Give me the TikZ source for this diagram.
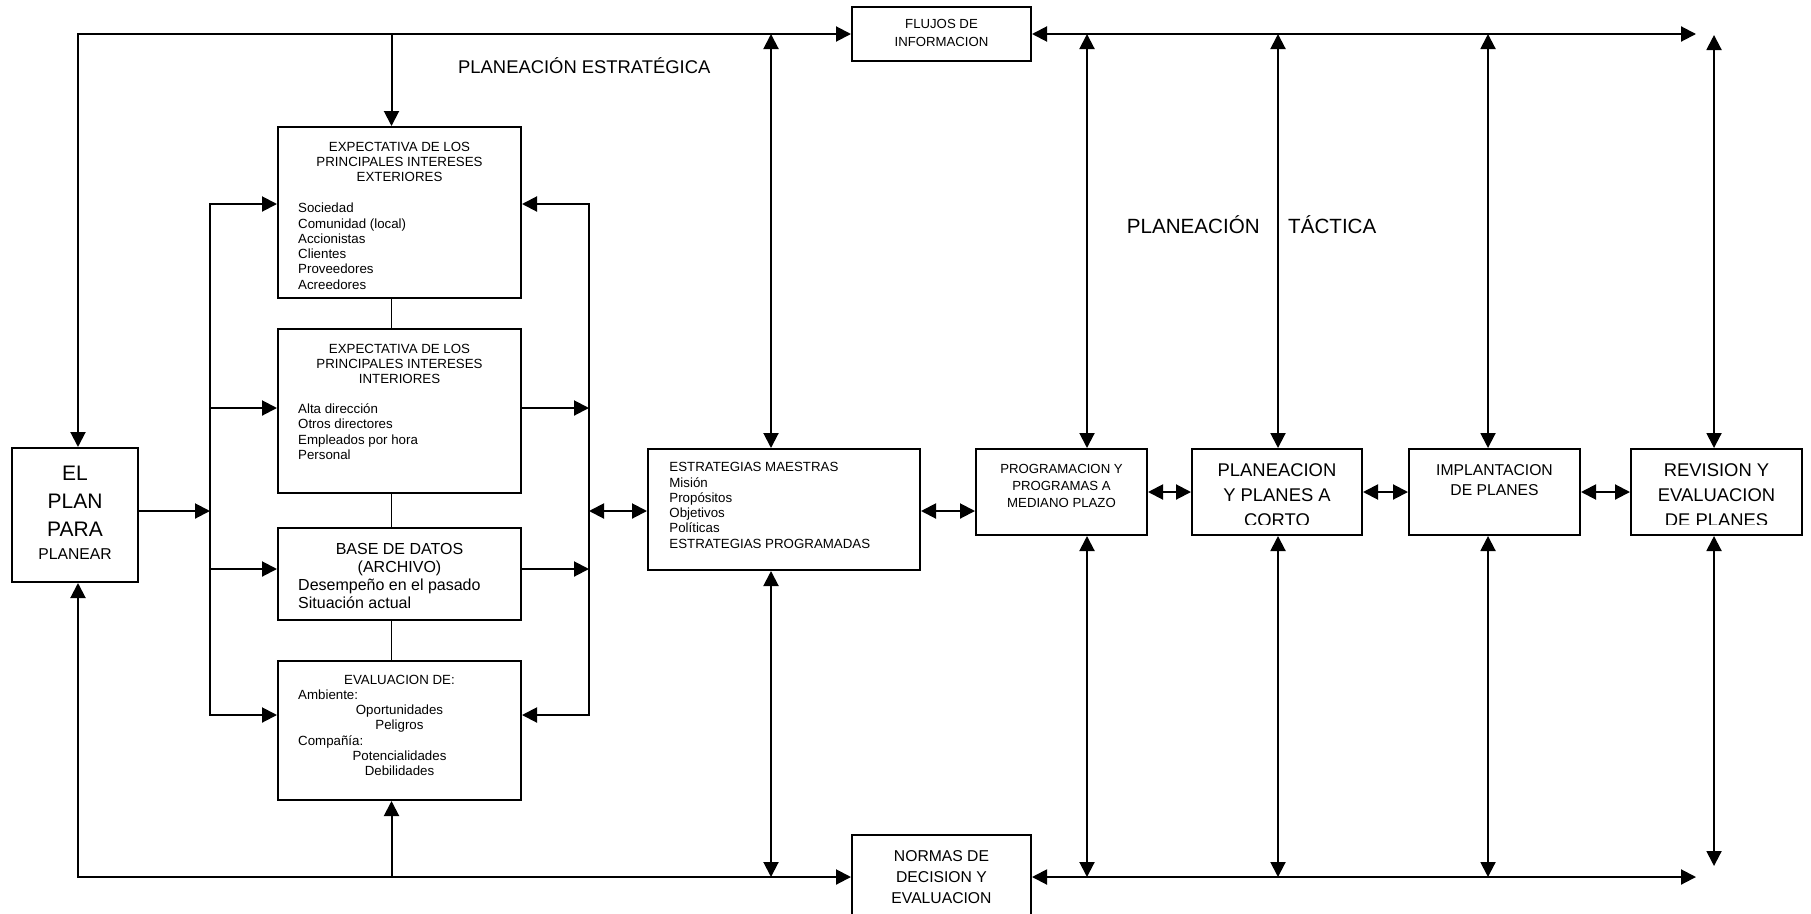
\documentclass[tikz,border=0pt]{standalone}
\usepackage{fontspec}
\setmainfont{Liberation Sans}
\usetikzlibrary{arrows.meta}
\newcommand\myfs[1]{\fontsize{#1}{#1}\selectfont}
\begin{document}
\begin{tikzpicture}[x=1pt,y=-1pt,
  box/.style 2 args={draw,line width=2pt,inner sep=0pt,minimum width=#1,minimum height=#2},
  ln/.style={line width=2pt,line join=miter},
  thinln/.style={line width=1.3pt},
  >={Triangle[length=15pt,width=15pt]},
  t/.style={inner sep=0pt,anchor=base},
  tw/.style={inner sep=0pt,anchor=base west}]
\clip (0,0) rectangle (1811,913);
% boxes
\node[box={179pt}{54pt}] (FLU) at (941.5,34) {};
\node[box={126pt}{134pt}] (PLAN) at (75,515) {};
\node[box={243pt}{171pt}] (B1) at (399.5,212.5) {};
\node[box={243pt}{164pt}] (B2) at (399.5,411) {};
\node[box={243pt}{92pt}] (B3) at (399.5,574) {};
\node[box={243pt}{139pt}] (B4) at (399.5,730.5) {};
\node[box={272pt}{121pt}] (EST) at (784,509.5) {};
\node[box={171pt}{86pt}] (PROG) at (1061.5,492) {};
\node[box={170pt}{86pt}] (PLC) at (1277,492) {};
\node[box={171pt}{86pt}] (IMP) at (1494.5,492) {};
\node[box={171pt}{86pt}] (REV) at (1716.5,492) {};
\node[box={179pt}{95pt}] (NORM) at (941.5,882.5) {};
% coordinates
\coordinate (TL) at (78,34);
\coordinate (BL) at (78,877);
\coordinate (TR) at (1696,34);
\coordinate (BR) at (1696,877);
\coordinate (tS) at (391.5,34);
\coordinate (bS) at (391.5,877);
\coordinate (lf1) at (210,204);
\coordinate (lf2) at (210,408);
\coordinate (lf3) at (210,569);
\coordinate (lf4) at (210,715);
\coordinate (lf5) at (210,511);
\coordinate (rf1) at (589,204);
\coordinate (rf2) at (589,408);
\coordinate (rf3) at (589,569);
\coordinate (rf4) at (589,715);
\coordinate (rf5) at (589,511);
\coordinate (tE) at (771,34);  \coordinate (bE) at (771,877);
\coordinate (tP) at (1087,34); \coordinate (bP) at (1087,877);
\coordinate (tC) at (1278,34); \coordinate (bC) at (1278,877);
\coordinate (tI) at (1488,34); \coordinate (bI) at (1488,877);
\coordinate (tR) at (1714,35); \coordinate (bR) at (1714,866);
% outer loop
\draw[ln,<->] (TL |- PLAN.north) -- (TL) -- (TL -| FLU.west);
\draw[ln,<->] (TL |- PLAN.south) -- (BL) -- (BL -| NORM.west);
\draw[ln,<->] (TL -| FLU.east) -- (TR);
\draw[ln,<->] (BL -| NORM.east) -- (BR);
% spine
\draw[ln,->] (tS) -- (tS |- B1.north);
\draw[ln,->] (bS) -- (bS |- B4.south);
\draw[thinln] (tS |- B1.south) -- (tS |- B2.north);
\draw[thinln] (tS |- B2.south) -- (tS |- B3.north);
\draw[thinln] (tS |- B3.south) -- (tS |- B4.north);
% left feedback
\draw[ln,->] (PLAN.east |- lf5) -- (lf5);
\draw[ln,->] (lf4) -- (lf1) -- (lf1 -| B1.west);
\draw[ln,->] (lf1) -- (lf4) -- (lf4 -| B4.west);
\draw[ln,->] (lf2) -- (lf2 -| B2.west);
\draw[ln,->] (lf3) -- (lf3 -| B3.west);
% right feedback
\draw[ln,->] (rf4) -- (rf1) -- (rf1 -| B1.east);
\draw[ln,->] (rf1) -- (rf4) -- (rf4 -| B4.east);
\draw[ln,->] (rf2 -| B2.east) -- (rf2);
\draw[ln,->] (rf3 -| B3.east) -- (rf3);
\draw[ln,<->] (rf5) -- (rf5 -| EST.west);
% horizontal links
\draw[ln,<->] (rf5 -| EST.east) -- (rf5 -| PROG.west);
\draw[ln,<->] (PROG.east) -- (PLC.west);
\draw[ln,<->] (PLC.east) -- (IMP.west);
\draw[ln,<->] (IMP.east) -- (REV.west);
% verticals
\draw[ln,<->] (tE) -- (tE |- EST.north);
\draw[ln,<->] (bE |- EST.south) -- (bE);
\draw[ln,<->] (tP) -- (tP |- PROG.north);
\draw[ln,<->] (bP |- PROG.south) -- (bP);
\draw[ln,<->] (tC) -- (tC |- PLC.north);
\draw[ln,<->] (bC |- PLC.south) -- (bC);
\draw[ln,<->] (tI) -- (tI |- IMP.north);
\draw[ln,<->] (bI |- IMP.south) -- (bI);
\draw[ln,<->] (tR) -- (tR |- REV.north);
\draw[ln,<->] (bR |- REV.south) -- (bR);
% free labels
\node[tw,font=\myfs{18.4}] (pe) at (458,73) {PLANEACIÓN ESTRATÉGICA};
\node[tw,font=\myfs{20.6}] (pt1) at (1126.7,233) {PLANEACIÓN};
\node[tw,font=\myfs{20.6}] (pt2) at (1288,233) {TÁCTICA};
% FLUJOS
\node[t,font=\myfs{13.2}] (f1) at (941.5,28.3) {FLUJOS DE};
\node[t,font=\myfs{13.2}] (f2) at (941.5,46.7) {INFORMACION};
% NORMAS
\node[t,font=\myfs{15.7}] (n1) at (941.5,861) {NORMAS DE};
\node[t,font=\myfs{15.7}] (n2) at (941.5,882.3) {DECISION Y};
\node[t,font=\myfs{15.7}] (n3) at (941.5,903.3) {EVALUACION};
% PLAN
\node[t,font=\myfs{21}] (p1) at (75,480) {EL};
\node[t,font=\myfs{21}] (p2) at (75,508.4) {PLAN};
\node[t,font=\myfs{21}] (p3) at (75,536.5) {PARA};
\node[t,font=\myfs{15.7}] (p4) at (75,559) {PLANEAR};
% B1
\foreach \s [count=\i from 0] in {EXPECTATIVA DE LOS,PRINCIPALES INTERESES,EXTERIORES}
  \node[t,font=\myfs{13.3}] (b1t\i) at (399.5,{151.7+15*\i}) {\s};
\foreach \s [count=\i from 0] in {Sociedad,{Comunidad (local)},Accionistas,Clientes,Proveedores,Acreedores}
  \node[tw,font=\myfs{13.3}] (b1i\i) at (298,{212.7+15.32*\i}) {\s};
% B2
\foreach \s [count=\i from 0] in {EXPECTATIVA DE LOS,PRINCIPALES INTERESES,INTERIORES}
  \node[t,font=\myfs{13.3}] (b2t\i) at (399.5,{353.3+15*\i}) {\s};
\foreach \s [count=\i from 0] in {Alta dirección,Otros directores,Empleados por hora,Personal}
  \node[tw,font=\myfs{13.3}] (b2i\i) at (298,{413.3+15.55*\i}) {\s};
% B3
\node[t,font=\myfs{16}] (b3a) at (399.5,554) {BASE DE DATOS};
\node[t,font=\myfs{16}] (b3b) at (399.5,572.5) {(ARCHIVO)};
\node[tw,font=\myfs{16}] (b3c) at (298,590) {Desempeño en el pasado};
\node[tw,font=\myfs{16}] (b3d) at (298,608.3) {Situación actual};
% B4
\node[t,font=\myfs{13.3}] (b4a) at (399.5,684) {EVALUACION DE:};
\node[tw,font=\myfs{13.3}] (b4b) at (298,699.3) {Ambiente:};
\node[t,font=\myfs{13.3}] (b4c) at (399.5,714.6) {Oportunidades};
\node[t,font=\myfs{13.3}] (b4d) at (399.5,729.9) {Peligros};
\node[tw,font=\myfs{13.3}] (b4e) at (298,745.2) {Compañía:};
\node[t,font=\myfs{13.3}] (b4f) at (399.5,760.5) {Potencialidades};
\node[t,font=\myfs{13.3}] (b4g) at (399.5,775.8) {Debilidades};
% EST
\foreach \s [count=\i from 0] in {ESTRATEGIAS MAESTRAS,Misión,Propósitos,Objetivos,Políticas,ESTRATEGIAS PROGRAMADAS}
  \node[tw,font=\myfs{13.3}] (ei\i) at (669.2,{471.7+15.32*\i}) {\s};
% PROG
\foreach \s [count=\i from 0] in {PROGRAMACION Y,PROGRAMAS A,MEDIANO PLAZO}
  \node[t,font=\myfs{13.2}] (pg\i) at (1061.5,{473.3+17*\i}) {\s};
% IMP
\node[t,font=\myfs{15.7}] (im1) at (1494.5,475) {IMPLANTACION};
\node[t,font=\myfs{15.7}] (im2) at (1494.5,495.7) {DE PLANES};
% clipped texts
\begin{scope}
\clip (1192,450) rectangle (1802,524);
\foreach \s [count=\i from 0] in {PLANEACION,Y PLANES A,CORTO}
  \node[t,font=\myfs{18.4}] (pc\i) at (1277,{476.7+25*\i}) {\s};
\foreach \s [count=\i from 0] in {REVISION Y,EVALUACION,DE PLANES}
  \node[t,font=\myfs{18.4}] (rv\i) at (1716.5,{476.7+25*\i}) {\s};
\end{scope}
\end{tikzpicture}
\end{document}
